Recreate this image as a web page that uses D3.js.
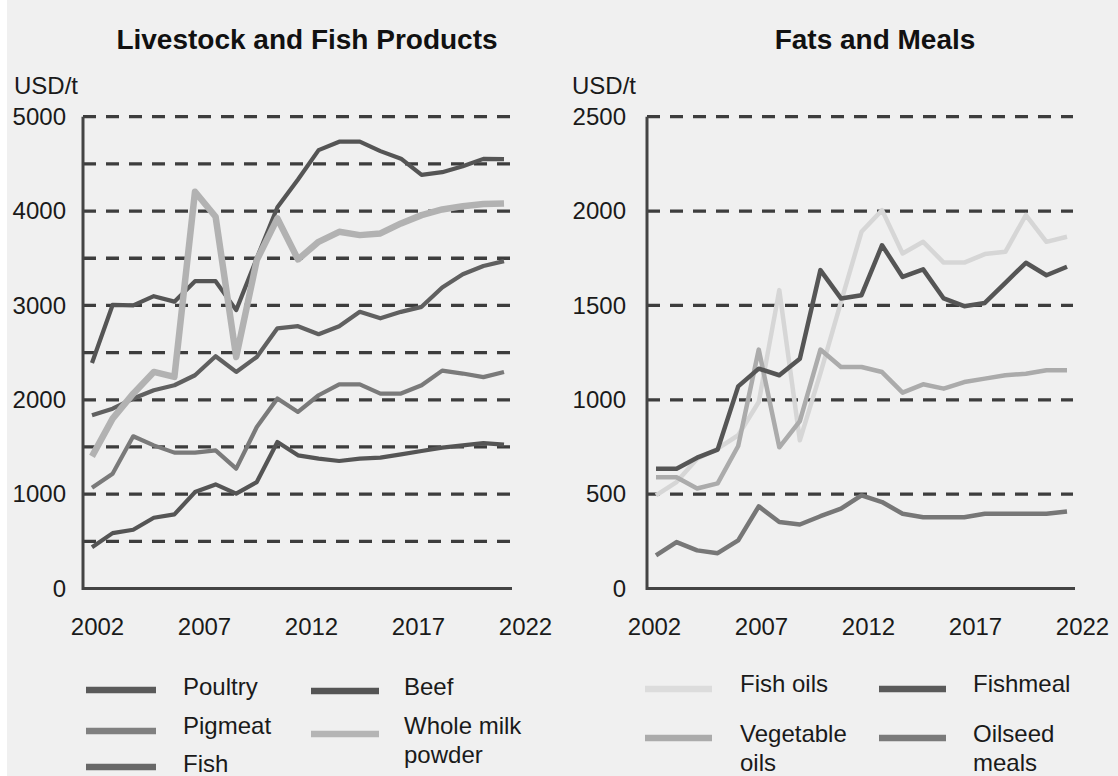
<!DOCTYPE html>
<html>
<head>
<meta charset="utf-8">
<script src="https://cdn.jsdelivr.net/npm/d3@7"></script>
<style>
  html, body { margin: 0; padding: 0; background: #ffffff; }
  svg { display: block; }
  text { font-family: "Liberation Sans", Arial, Helvetica, sans-serif; }
</style>
</head>
<body>
<div id="chart"></div>
<script>
// ---------------- DATA ----------------
const years = [2002, 2003, 2004, 2005, 2006, 2007, 2008, 2009, 2010, 2011, 2012,
               2013, 2014, 2015, 2016, 2017, 2018, 2019, 2020, 2021, 2022];
const xTickYears = [2002, 2007, 2012, 2017, 2022];

// Livestock and Fish Products (USD/t)
const beef     = [2390, 3005, 3000, 3098, 3040, 3257, 3257, 2950, 3500, 4040, 4335,
                  4646, 4735, 4735, 4635, 4555, 4383, 4412, 4474, 4553, 4550];
const fish     = [1835, 1906, 2013, 2101, 2154, 2260, 2461, 2295, 2454, 2757, 2780,
                  2695, 2780, 2932, 2863, 2932, 2985, 3190, 3330, 3418, 3469];
const pigmeat  = [1068, 1217, 1613, 1517, 1440, 1440, 1464, 1270, 1711, 2013, 1871,
                  2048, 2164, 2164, 2066, 2066, 2154, 2309, 2278, 2240, 2295];
const poultry  = [438, 587, 623, 750, 785, 1022, 1103, 1005, 1128, 1552, 1411,
                  1376, 1351, 1376, 1387, 1422, 1457, 1493, 1517, 1540, 1525];
const wholeMilkPowder = [1400, 1800, 2065, 2295, 2242, 4205, 3940, 2454, 3480, 3922, 3487,
                  3674, 3780, 3745, 3763, 3869, 3957, 4017, 4052, 4074, 4081];
const leftGridValues  = [500, 1000, 1500, 2000, 2500, 3000, 3500, 4000, 4500, 5000];
const leftTickValues  = [0, 1000, 2000, 3000, 4000, 5000];

// Fats and Meals (USD/t)
const fishOils     = [493, 564, 688, 741, 812, 988, 1581, 785, 1140, 1517, 1890,
                      2005, 1775, 1837, 1727, 1727, 1772, 1784, 1979, 1837, 1864];
const fishmeal     = [635, 635, 693, 736, 1071, 1165, 1130, 1218, 1687, 1537, 1554,
                      1819, 1651, 1691, 1537, 1496, 1513, 1620, 1726, 1660, 1705];
const vegetableOils = [590, 590, 530, 557, 755, 1266, 748, 887, 1266, 1174, 1174,
                      1147, 1038, 1082, 1059, 1094, 1112, 1130, 1138, 1156, 1156];
const oilseedMeals = [175, 246, 202, 187, 255, 435, 352, 339, 383, 423, 493,
                      458, 396, 378, 378, 378, 396, 396, 396, 396, 408];
const rightGridValues = [500, 1000, 1500, 2000, 2500];
const rightTickValues = [0, 500, 1000, 1500, 2000, 2500];

// ---------------- DRAWING ----------------
const W = 1118, H = 776;
const svg = d3.select("#chart").append("svg").attr("width", W).attr("height", H);
svg.append("rect").attr("x", 0).attr("y", 0).attr("width", W).attr("height", H).attr("fill", "#ffffff");
svg.append("rect").attr("x", 7).attr("y", 0).attr("width", W - 7).attr("height", H).attr("fill", "#f0f0f0");

const FONT = 24;

function panel(cfg) {
  const g = svg.append("g");
  const y = d3.scaleLinear().domain([0, cfg.yMax]).range([588.5, 116.7]);
  const x = d3.scaleLinear().domain([2002, 2022]).range([cfg.x0, cfg.x1]);
  const xl = d3.scaleLinear().domain([2002, 2022]).range([cfg.l0, cfg.l1]);

  // title
  g.append("text").attr("x", cfg.titleX).attr("y", 49).attr("text-anchor", "middle")
    .attr("font-size", 28).attr("font-weight", "bold").attr("fill", "#111").text(cfg.title);
  g.append("text").attr("x", cfg.unitX).attr("y", 94).attr("font-size", FONT)
    .attr("fill", "#1a1a1a").text("USD/t");

  // dashed grid
  g.append("g").selectAll("line").data(cfg.grid).join("line")
    .attr("x1", cfg.axisX).attr("x2", cfg.gridEnd)
    .attr("y1", d => y(d)).attr("y2", d => y(d))
    .attr("stroke", "#3d3d3d").attr("stroke-width", 3.3)
    .attr("stroke-dasharray", "13,10");

  // axis lines
  g.append("path")
    .attr("d", `M${cfg.axisX},${y(cfg.yMax)}L${cfg.axisX},${y(0)}L${cfg.axisEnd},${y(0)}`)
    .attr("fill", "none").attr("stroke", "#444").attr("stroke-width", 3);

  // y labels
  const ya = g.append("g").attr("transform", `translate(${cfg.axisX},0)`)
    .call(d3.axisLeft(y).tickValues(cfg.ticks).tickSize(0).tickPadding(cfg.axisX - cfg.labelRight).tickFormat(d3.format("d")));
  ya.select(".domain").remove();
  ya.selectAll("text").attr("font-size", FONT).attr("fill", "#1a1a1a")
    .attr("font-family", "'Liberation Sans', Arial, sans-serif");

  // x labels
  const xa = g.append("g").attr("transform", `translate(0,${y(0)})`)
    .call(d3.axisBottom(xl).tickValues(xTickYears).tickSize(0).tickPadding(29).tickFormat(d3.format("d")));
  xa.select(".domain").remove();
  xa.selectAll("text").attr("font-size", FONT).attr("fill", "#1a1a1a")
    .attr("font-family", "'Liberation Sans', Arial, sans-serif");

  // series
  const line = d3.line().x((d, i) => x(years[i])).y(d => y(d));
  cfg.series.forEach(s => {
    g.append("path").datum(s.values).attr("d", line)
      .attr("fill", "none").attr("stroke", s.color).attr("stroke-width", s.width)
      .attr("stroke-linejoin", "round").attr("stroke-linecap", "butt");
  });

  // legend
  cfg.legend.forEach(item => {
    g.append("line").attr("x1", item.sx).attr("x2", item.sx + item.sw)
      .attr("y1", item.sy).attr("y2", item.sy)
      .attr("stroke", item.color).attr("stroke-width", 6.5);
    item.lines.forEach((t, k) => {
      g.append("text").attr("x", item.tx).attr("y", item.ty + k * 29)
        .attr("font-size", FONT).attr("fill", "#1a1a1a").text(t);
    });
  });
}

panel({
  title: "Livestock and Fish Products", titleX: 307, unitX: 14,
  yMax: 5000, grid: leftGridValues, ticks: leftTickValues,
  axisX: 83, axisEnd: 512, gridEnd: 510, labelRight: 66,
  x0: 92, x1: 504, l0: 97, l1: 525,
  series: [
    { values: pigmeat, color: "#7a7a7a", width: 4.2 },
    { values: fish, color: "#606060", width: 4.2 },
    { values: poultry, color: "#555555", width: 4.2 },
    { values: beef, color: "#555555", width: 4.2 },
    { values: wholeMilkPowder, color: "#b2b2b2", width: 6.5 }
  ],
  legend: [
    { sx: 86, sw: 70, sy: 690, color: "#5a5a5a", tx: 183, ty: 695, lines: ["Poultry"] },
    { sx: 86, sw: 70, sy: 731, color: "#808080", tx: 183, ty: 734, lines: ["Pigmeat"] },
    { sx: 86, sw: 70, sy: 767, color: "#686868", tx: 183, ty: 772, lines: ["Fish"] },
    { sx: 311, sw: 68, sy: 691, color: "#555555", tx: 404, ty: 695, lines: ["Beef"] },
    { sx: 311, sw: 68, sy: 734, color: "#b5b5b5", tx: 404, ty: 734, lines: ["Whole milk", "powder"] }
  ]
});

panel({
  title: "Fats and Meals", titleX: 875, unitX: 572,
  yMax: 2500, grid: rightGridValues, ticks: rightTickValues,
  axisX: 647, axisEnd: 1075, gridEnd: 1073, labelRight: 626,
  x0: 656, x1: 1067, l0: 654, l1: 1082,
  series: [
    { values: fishOils, color: "#d6d6d6", width: 4.5 },
    { values: vegetableOils, color: "#ababab", width: 4.5 },
    { values: oilseedMeals, color: "#777777", width: 4.5 },
    { values: fishmeal, color: "#555555", width: 4.5 }
  ],
  legend: [
    { sx: 645, sw: 67, sy: 689, color: "#dcdcdc", tx: 740, ty: 692, lines: ["Fish oils"] },
    { sx: 645, sw: 67, sy: 738, color: "#ababab", tx: 740, ty: 742, lines: ["Vegetable", "oils"] },
    { sx: 879, sw: 67, sy: 689, color: "#5a5a5a", tx: 973, ty: 692, lines: ["Fishmeal"] },
    { sx: 879, sw: 67, sy: 738, color: "#7a7a7a", tx: 973, ty: 742, lines: ["Oilseed", "meals"] }
  ]
});
</script>
</body>
</html>
